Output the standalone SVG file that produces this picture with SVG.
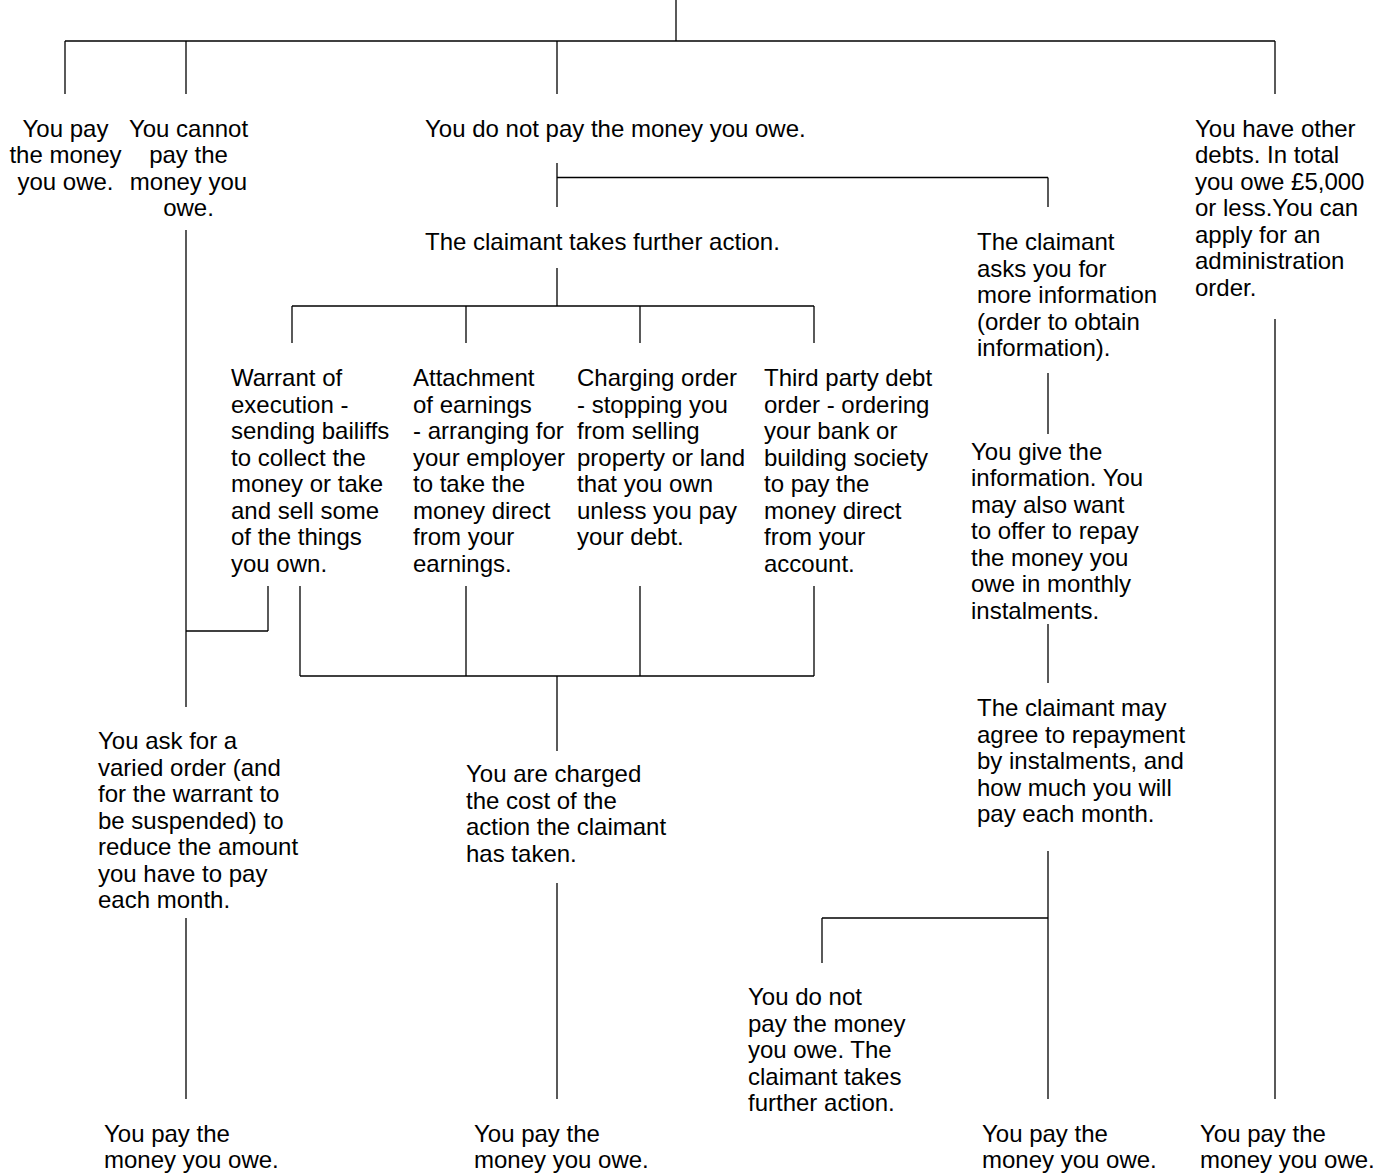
<svg xmlns="http://www.w3.org/2000/svg" width="1391" height="1175" viewBox="0 0 1391 1175">
<style>
  text { font-family: "Liberation Sans", Arial, sans-serif; font-size: 24px; fill: #000; }
  .c { text-anchor: middle; }
  #connectors line { stroke: #000; stroke-width: 1.3; fill: none; }
</style>
<rect width="1391" height="1175" fill="#fff"/>
<g id="connectors">
  <line x1="676" y1="0" x2="676" y2="41"/>
  <line x1="65" y1="41" x2="1275" y2="41"/>
  <line x1="65" y1="41" x2="65" y2="94"/>
  <line x1="186" y1="41" x2="186" y2="94"/>
  <line x1="557" y1="41" x2="557" y2="94"/>
  <line x1="1275" y1="41" x2="1275" y2="94"/>
  <line x1="557" y1="163" x2="557" y2="207"/>
  <line x1="557" y1="177.5" x2="1048" y2="177.5"/>
  <line x1="1048" y1="177.5" x2="1048" y2="207"/>
  <line x1="557" y1="268" x2="557" y2="306"/>
  <line x1="292" y1="306" x2="814" y2="306"/>
  <line x1="292" y1="306" x2="292" y2="343"/>
  <line x1="466" y1="306" x2="466" y2="343"/>
  <line x1="640" y1="306" x2="640" y2="343"/>
  <line x1="814" y1="306" x2="814" y2="343"/>
  <line x1="186" y1="230" x2="186" y2="707"/>
  <line x1="268" y1="586" x2="268" y2="631"/>
  <line x1="186" y1="631" x2="268" y2="631"/>
  <line x1="300" y1="586" x2="300" y2="676"/>
  <line x1="466" y1="586" x2="466" y2="676"/>
  <line x1="640" y1="586" x2="640" y2="676"/>
  <line x1="814" y1="586" x2="814" y2="676"/>
  <line x1="300" y1="676" x2="814" y2="676"/>
  <line x1="557" y1="676" x2="557" y2="751"/>
  <line x1="186" y1="918" x2="186" y2="1099"/>
  <line x1="557" y1="883" x2="557" y2="1099"/>
  <line x1="1048" y1="373" x2="1048" y2="434"/>
  <line x1="1048" y1="624" x2="1048" y2="683"/>
  <line x1="1048" y1="851" x2="1048" y2="1099"/>
  <line x1="822" y1="918" x2="1048" y2="918"/>
  <line x1="822" y1="918" x2="822" y2="963"/>
  <line x1="1275" y1="319" x2="1275" y2="1099"/>
</g>
<g id="pay-now"><text class="c"><tspan x="65.5" y="136.5">You pay</tspan><tspan x="65.5" y="163">the money</tspan><tspan x="65.5" y="189.5">you owe.</tspan></text></g>
<g id="cannot-pay"><text class="c"><tspan x="188.5" y="136.5">You cannot</tspan><tspan x="188.5" y="163">pay the</tspan><tspan x="188.5" y="189.5">money you</tspan><tspan x="188.5" y="216">owe.</tspan></text></g>
<g id="do-not-pay"><text x="425" y="136.5">You do not pay the money you owe.</text></g>
<g id="other-debts"><text><tspan x="1195" y="136.5">You have other</tspan><tspan x="1195" y="163">debts. In total</tspan><tspan x="1195" y="189.5">you owe £5,000</tspan><tspan x="1195" y="216">or less.You can</tspan><tspan x="1195" y="242.5">apply for an</tspan><tspan x="1195" y="269">administration</tspan><tspan x="1195" y="295.5">order.</tspan></text></g>
<g id="further-action"><text x="425" y="250">The claimant takes further action.</text></g>
<g id="more-info"><text><tspan x="977" y="250">The claimant</tspan><tspan x="977" y="276.5">asks you for</tspan><tspan x="977" y="303">more information</tspan><tspan x="977" y="329.5">(order to obtain</tspan><tspan x="977" y="356">information).</tspan></text></g>
<g id="warrant"><text><tspan x="231" y="386">Warrant of</tspan><tspan x="231" y="412.5">execution -</tspan><tspan x="231" y="439">sending bailiffs</tspan><tspan x="231" y="465.5">to collect the</tspan><tspan x="231" y="492">money or take</tspan><tspan x="231" y="518.5">and sell some</tspan><tspan x="231" y="545">of the things</tspan><tspan x="231" y="571.5">you own.</tspan></text></g>
<g id="attachment"><text><tspan x="413" y="386">Attachment</tspan><tspan x="413" y="412.5">of earnings</tspan><tspan x="413" y="439">- arranging for</tspan><tspan x="413" y="465.5">your employer</tspan><tspan x="413" y="492">to take the</tspan><tspan x="413" y="518.5">money direct</tspan><tspan x="413" y="545">from your</tspan><tspan x="413" y="571.5">earnings.</tspan></text></g>
<g id="charging"><text><tspan x="577" y="386">Charging order</tspan><tspan x="577" y="412.5">- stopping you</tspan><tspan x="577" y="439">from selling</tspan><tspan x="577" y="465.5">property or land</tspan><tspan x="577" y="492">that you own</tspan><tspan x="577" y="518.5">unless you pay</tspan><tspan x="577" y="545">your debt.</tspan></text></g>
<g id="third-party"><text><tspan x="764" y="386">Third party debt</tspan><tspan x="764" y="412.5">order - ordering</tspan><tspan x="764" y="439">your bank or</tspan><tspan x="764" y="465.5">building society</tspan><tspan x="764" y="492">to pay the</tspan><tspan x="764" y="518.5">money direct</tspan><tspan x="764" y="545">from your</tspan><tspan x="764" y="571.5">account.</tspan></text></g>
<g id="give-info"><text><tspan x="971" y="459.5">You give the</tspan><tspan x="971" y="486">information. You</tspan><tspan x="971" y="512.5">may also want</tspan><tspan x="971" y="539">to offer to repay</tspan><tspan x="971" y="565.5">the money you</tspan><tspan x="971" y="592">owe in monthly</tspan><tspan x="971" y="618.5">instalments.</tspan></text></g>
<g id="claimant-agree"><text><tspan x="977" y="716">The claimant may</tspan><tspan x="977" y="742.5">agree to repayment</tspan><tspan x="977" y="769">by instalments, and</tspan><tspan x="977" y="795.5">how much you will</tspan><tspan x="977" y="822">pay each month.</tspan></text></g>
<g id="varied-order"><text><tspan x="98" y="749">You ask for a</tspan><tspan x="98" y="775.5">varied order (and</tspan><tspan x="98" y="802">for the warrant to</tspan><tspan x="98" y="828.5">be suspended) to</tspan><tspan x="98" y="855">reduce the amount</tspan><tspan x="98" y="881.5">you have to pay</tspan><tspan x="98" y="908">each month.</tspan></text></g>
<g id="charged-cost"><text><tspan x="466" y="782">You are charged</tspan><tspan x="466" y="808.5">the cost of the</tspan><tspan x="466" y="835">action the claimant</tspan><tspan x="466" y="861.5">has taken.</tspan></text></g>
<g id="not-pay-further"><text><tspan x="748" y="1005">You do not</tspan><tspan x="748" y="1031.5">pay the money</tspan><tspan x="748" y="1058">you owe. The</tspan><tspan x="748" y="1084.5">claimant takes</tspan><tspan x="748" y="1111">further action.</tspan></text></g>
<g id="pay-1"><text><tspan x="104" y="1142">You pay the</tspan><tspan x="104" y="1168">money you owe.</tspan></text></g>
<g id="pay-2"><text><tspan x="474" y="1142">You pay the</tspan><tspan x="474" y="1168">money you owe.</tspan></text></g>
<g id="pay-3"><text><tspan x="982" y="1142">You pay the</tspan><tspan x="982" y="1168">money you owe.</tspan></text></g>
<g id="pay-4"><text><tspan x="1200" y="1142">You pay the</tspan><tspan x="1200" y="1168">money you owe.</tspan></text></g>
</svg>
